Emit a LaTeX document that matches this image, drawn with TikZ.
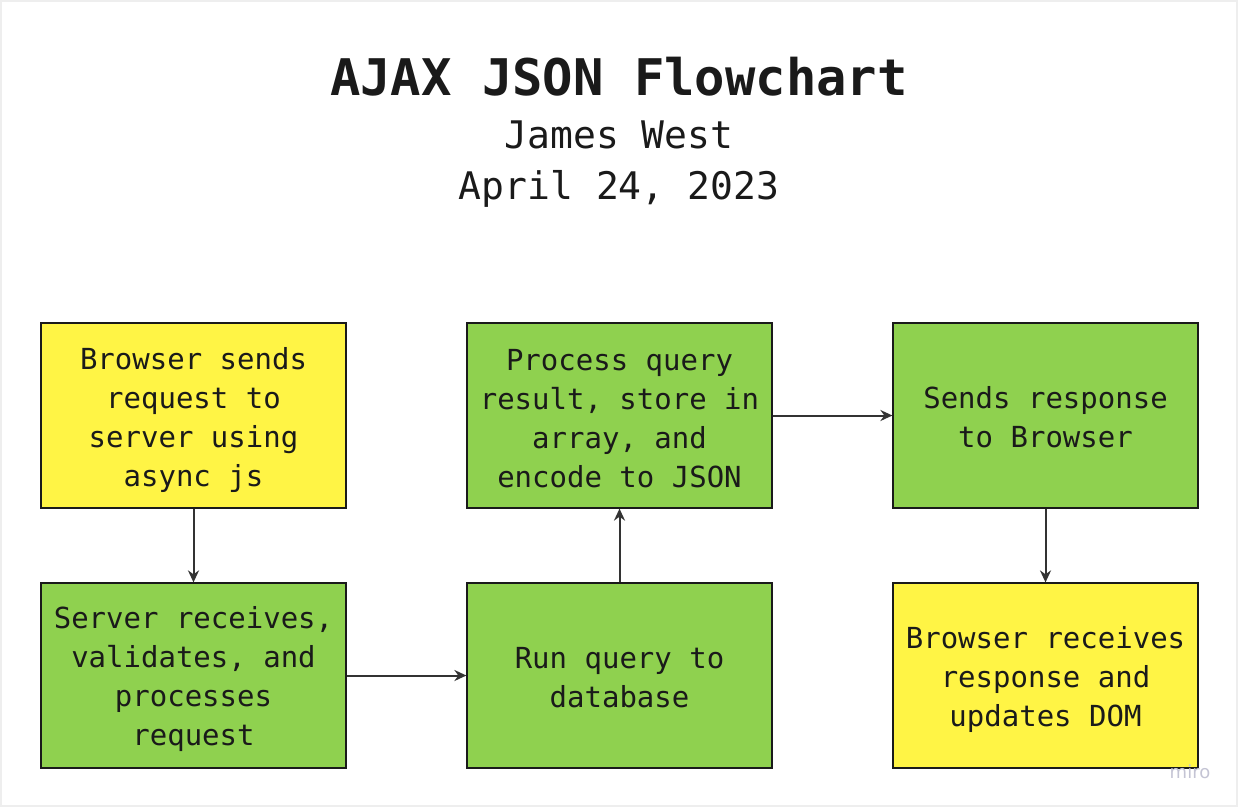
\documentclass[tikz,border=0pt]{standalone}
\usepackage{fontspec}
\setmainfont{DejaVu Sans Mono}
\newfontfamily\wmfont{DejaVu Sans}
\usetikzlibrary{arrows.meta}
\definecolor{boxyellow}{HTML}{FFF445}
\definecolor{boxgreen}{HTML}{8FD14F}
\definecolor{boxline}{HTML}{1A1A1A}
\definecolor{arrowcol}{HTML}{333333}
\definecolor{framecol}{HTML}{EEEEEE}
\definecolor{textcol}{HTML}{1A1A1A}
\definecolor{wmcol}{HTML}{C4C4D4}
\newcommand\linestrut{\rule[-3.1pt]{0pt}{39pt}}
\tikzset{
  flowbox/.style={draw=boxline, line width=1.2pt, minimum width=305pt, minimum height=185pt, inner sep=0pt},
  ybox/.style={flowbox, fill=boxyellow},
  gbox/.style={flowbox, fill=boxgreen},
  boxtext/.style={inner sep=0pt, align=center, text=textcol, font=\fontsize{29}{39}\selectfont,
    execute at begin node=\linestrut, execute at end node=\linestrut},
  conn/.style={draw=arrowcol, line width=2pt, -{Stealth[length=12pt,width=11pt]}},
}
\begin{document}
\begin{tikzpicture}[x=1pt,y=-1pt]
\useasboundingbox (0,0) rectangle (1238,807);
\draw[framecol, line width=2pt] (1,1) rectangle (1237,806);
\node[anchor=base, font=\fontsize{50.5}{60}\bfseries\selectfont, text=textcol] (title) at (619,95) {AJAX JSON Flowchart};
\node[anchor=base, font=\fontsize{38}{46}\selectfont, text=textcol] (author) at (619,148) {James West};
\node[anchor=base, font=\fontsize{38}{46}\selectfont, text=textcol] (date) at (619,199) {April 24, 2023};

\node[ybox] (b1) at (193.5,415.5) {};
\node[gbox] (b2) at (193.5,675.5) {};
\node[gbox] (b3) at (619.5,675.5) {};
\node[gbox] (b4) at (619.5,415.5) {};
\node[gbox] (b5) at (1045.5,415.5) {};
\node[ybox] (b6) at (1045.5,675.5) {};

\node[boxtext] (t1) at ([yshift=-4pt]b1.center) {Browser sends\\request to\\server using\\async js};
\node[boxtext] (t2) at ([yshift=-4pt]b2.center) {Server receives,\\validates, and\\processes\\request};
\node[boxtext] (t3) at ([yshift=-3pt]b3.center) {Run query to\\database};
\node[boxtext] (t4) at ([yshift=-4pt]b4.center) {Process query\\result, store in\\array, and\\encode to JSON};
\node[boxtext] (t5) at ([yshift=-3pt]b5.center) {Sends response\\to Browser};
\node[boxtext] (t6) at ([yshift=-4pt]b6.center) {Browser receives\\response and\\updates DOM};

\draw[conn] (b1.south) -- (b2.north);
\draw[conn] (b2.east) -- (b3.west);
\draw[conn] (b3.north) -- (b4.south);
\draw[conn] (b4.east) -- (b5.west);
\draw[conn] (b5.south) -- (b6.north);

\node[anchor=base, font=\wmfont\fontsize{18}{20}\selectfont, text=wmcol] (wm) at (1190,778) {miro};
\end{tikzpicture}
\end{document}
